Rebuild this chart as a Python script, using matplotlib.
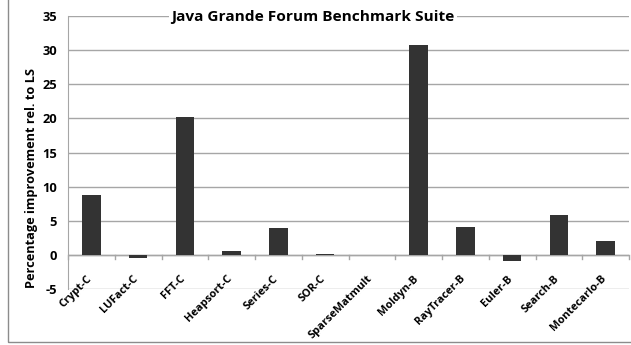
import matplotlib
matplotlib.use("Agg")
import matplotlib.pyplot as plt
import numpy as np
from matplotlib.patches import Rectangle

benchmarks = ['Crypt-C', 'LUFact-C', 'FFT-C', 'Heapsort-C', 'Series-C', 'SOR-C',
              'SparseMatmult', 'Moldyn-B', 'RayTracer-B', 'Euler-B', 'Search-B',
              'Montecarlo-B']
improvement = [8.8, -0.4, 20.2, 0.6, 4.0, 0.15, 0.0, 30.7, 4.1, -0.9, 5.9, 2.1]
yticks = [-5, 0, 5, 10, 15, 20, 25, 30, 35]

GRID = '#a6a6a6'
BAR = '#333333'
plt.rcParams['font.family'] = ['Open Sans', 'DejaVu Sans']

W, H = 631, 345
fig = plt.figure(figsize=(W / 100, H / 100), dpi=100)
ax = fig.add_axes([68 / W, 1 - 289 / H, (629 - 68) / W, (289 - 16) / H])

# outer chart frame
fig.patches.append(Rectangle((8 / W, 3 / H), 1.0, 1.0, transform=fig.transFigure,
                             fill=False, edgecolor='#8c8c8c', linewidth=1.0))

x = np.arange(len(benchmarks))
ax.bar(x, improvement, width=0.4, color=BAR, zorder=3)

ax.set_xlim(-0.5, len(benchmarks) - 0.5)
ax.set_ylim(-5, 35)
ax.set_yticks(yticks)
ax.set_yticklabels([str(v) for v in yticks], fontsize=9.3, fontweight='bold')
ax.tick_params(axis='y', length=0, pad=8)
ax.yaxis.grid(True, color=GRID, linewidth=1.0, zorder=0)

for s in ['top', 'right', 'bottom']:
    ax.spines[s].set_visible(False)
ax.spines['left'].set_color(GRID)

# category axis at zero with boundary tick marks
ax.axhline(0, color=GRID, linewidth=1.0, zorder=2)
ax.set_xticks([])
for b in np.arange(len(benchmarks) + 1) - 0.5:
    ax.plot([b, b], [0, -0.55], color=GRID, linewidth=1.0, zorder=2, clip_on=False)

for i, name in enumerate(benchmarks):
    ax.annotate(name, xy=(i, 0), xycoords='data', xytext=(-1, -16),
                textcoords='offset points', rotation=45, ha='right', va='center',
                rotation_mode='anchor', fontsize=7.9, fontweight='bold')

ax.set_ylabel('Percentage improvement rel. to LS', fontsize=9.2, fontweight='bold')
ax.yaxis.set_label_coords(-0.053, 0.405)

fig.text(313 / W, 1 - 17 / H, 'Java Grande Forum Benchmark Suite', ha='center',
         va='center', fontsize=11.1, fontweight='bold',
         bbox=dict(facecolor='white', edgecolor='none', pad=2))

fig.savefig('out.png', dpi=100)
